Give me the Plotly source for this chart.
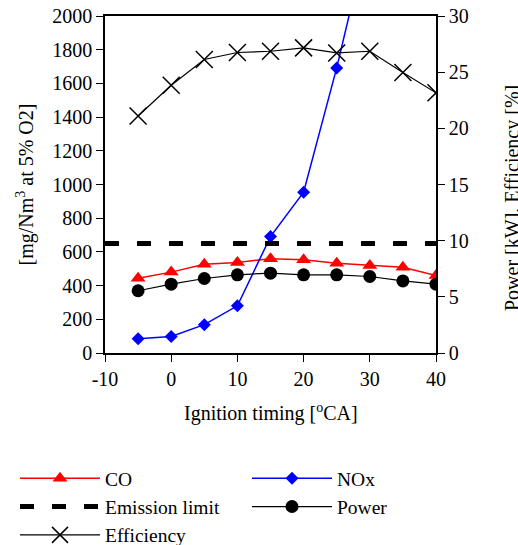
import plotly.graph_objects as go

# ---- data ----
timing = [-5, 0, 5, 10, 15, 20, 25, 30, 35, 40]
co = [444, 480, 527, 537, 560, 553, 533, 519, 509, 460]
nox_timing = [-5, 0, 5, 10, 15, 20, 25, 30]
nox = [85, 98, 168, 280, 691, 954, 1692, 2520]
limit_timing = [-10, 40]
limit = [650, 650]
power = [5.54, 6.13, 6.63, 6.96, 7.11, 6.96, 6.96, 6.81, 6.42, 6.13]
efficiency = [21.1, 23.84, 26.13, 26.75, 26.86, 27.16, 26.71, 26.86, 24.97, 23.16]

x_tickvals = [-10, 0, 10, 20, 30, 40]
x_ticktext = ["-10", "0", "10", "20", "30", "40"]
x_range = [-10, 40]
y_range = [0, 2000]
y2_range = [0, 30]

FONT = "Liberation Serif"
FS = 20
W, H = 518, 545

fig = go.Figure()
fig.add_trace(go.Scatter(x=timing, y=co, name="CO", mode="lines+markers", legend="legend",
                         line=dict(color="#ff0000", width=1.5),
                         marker=dict(symbol="triangle-up", size=13, color="#ff0000")))
fig.add_trace(go.Scatter(x=nox_timing, y=nox, name="NOx", mode="lines+markers", legend="legend2",
                         line=dict(color="#0000ff", width=1.5),
                         marker=dict(symbol="diamond", size=10, color="#0000ff")))
fig.add_trace(go.Scatter(x=limit_timing, y=limit, name="Emission limit", mode="lines",
                         legend="legend",
                         line=dict(color="black", width=5, dash="14px,18px")))
fig.add_trace(go.Scatter(x=timing, y=power, name="Power", mode="lines+markers", yaxis="y2",
                         legend="legend2",
                         line=dict(color="black", width=1.2),
                         marker=dict(symbol="circle", size=13, color="black")))
fig.add_trace(go.Scatter(x=timing, y=efficiency, name="Efficiency", mode="lines+markers",
                         yaxis="y2", legend="legend",
                         line=dict(color="black", width=1.2),
                         marker=dict(symbol="x-thin", size=17, color="black",
                                     line=dict(color="black", width=1.5))))

tickfont = dict(family=FONT, size=FS, color="black")
common = dict(showgrid=False, zeroline=False, linecolor="black", linewidth=1.5,
              tickcolor="black", tickwidth=1.2, ticklen=7, tickfont=tickfont,
              automargin=False)

legend_common = dict(orientation="v", xref="container", yref="container",
                     xanchor="left", yanchor="top", itemwidth=80,
                     font=dict(family=FONT, size=19.5, color="black"),
                     bgcolor="rgba(0,0,0,0)", tracegroupgap=0)

fig.update_layout(
    width=W, height=H,
    margin=dict(l=105, r=82, t=16, b=192, autoexpand=False),
    paper_bgcolor="white", plot_bgcolor="white",
    font=dict(family=FONT, size=FS, color="black"),
    xaxis=dict(range=x_range, tickvals=x_tickvals, ticktext=x_ticktext, ticks="outside",
               showline=True, mirror=True, **common),
    yaxis=dict(range=y_range, dtick=200, ticks="outside", showline=True, **common),
    yaxis2=dict(range=y2_range, dtick=5, ticks="outside", showline=True, overlaying="y",
                side="right", **common),
    xaxis3=dict(range=x_range, tickvals=x_tickvals, ticks="inside", showline=False,
                showticklabels=False, overlaying="x", **common),
    yaxis3=dict(range=y_range, dtick=200, ticks="inside", showline=False, showticklabels=False,
                overlaying="y", **common),
    yaxis4=dict(range=y2_range, dtick=5, ticks="inside", showline=False, showticklabels=False,
                overlaying="y", side="right", **common),
    showlegend=True,
    legend=dict(x=15 / W, y=1 - 459 / H, **legend_common),
    legend2=dict(x=247 / W, y=1 - 459 / H, **legend_common),
    annotations=[
        dict(text="[mg/Nm<sup>3</sup> at 5% O2]", xref="paper", yref="paper",
             x=(25 - 105) / 331, y=0.5, showarrow=False, textangle=-90,
             xanchor="center", yanchor="middle", font=dict(family=FONT, size=FS)),
        dict(text="Power [kW], Efficiency [%]", xref="paper", yref="paper",
             x=(512 - 105) / 331, y=(353 - 198) / 337, showarrow=False, textangle=-90,
             xanchor="center", yanchor="middle", font=dict(family=FONT, size=FS)),
        dict(text="Ignition timing [<sup>o</sup>CA]", xref="paper", yref="paper",
             x=0.5, y=(353 - 412) / 337, showarrow=False,
             xanchor="center", yanchor="middle", font=dict(family=FONT, size=FS)),
    ],
)

fig.write_html("out.html")
